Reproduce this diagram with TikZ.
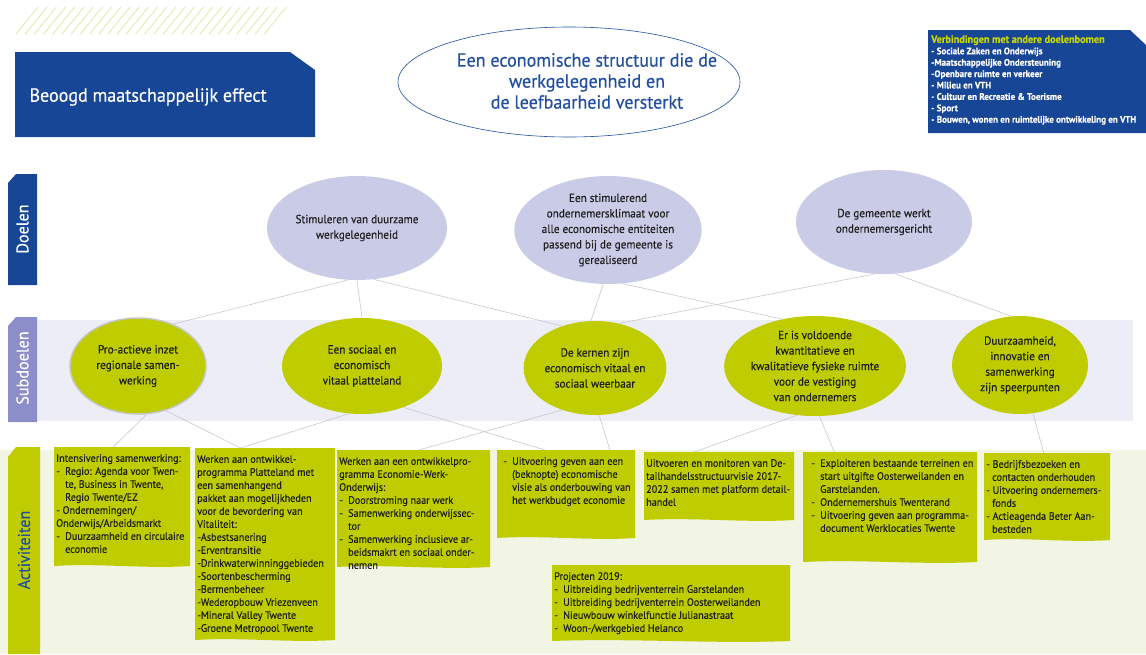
\documentclass[tikz,border=0pt]{standalone}
\usepackage{fontspec}
\setmainfont{PT Sans}[FakeStretch=0.95, FakeBold=0.3]
\usetikzlibrary{shapes.geometric}

\definecolor{darkblue}{RGB}{24,70,150}
\definecolor{titleblue}{RGB}{32,78,160}
\definecolor{doelfill}{RGB}{201,203,231}
\definecolor{subbar}{RGB}{139,142,200}
\definecolor{subband}{RGB}{236,237,246}
\definecolor{actgreen}{RGB}{191,204,0}
\definecolor{actband}{RGB}{242,244,228}
\definecolor{hatchgreen}{RGB}{226,231,168}
\definecolor{linegray}{RGB}{200,200,200}
\definecolor{textdark}{RGB}{30,30,30}
\definecolor{verbtitle}{RGB}{200,214,0}

\newcommand{\itm}{\makebox[9pt][l]{-}}
\newcommand{\ind}{\hspace*{9pt}}
% activity box: name, x, y, width, height, text
\newcommand{\actbox}[6]{%
  \fill[actgreen] (#2,#3) -- ++(#4,0) -- ++(0,#5)
    .. controls +(-#4/3,3) and +(#4/3,-3) .. (#2,#3+#5) -- cycle;
  \node[acttext] (#1) at (#2+2,#3) {#6};}

\tikzset{
  doel/.style 2 args={ellipse, fill=doelfill, minimum width=#1, minimum height=#2,
    inner sep=0pt, align=center, font=\fontsize{11.8}{15.5}\selectfont, text=textdark},
  subdoel/.style 2 args={ellipse, fill=actgreen, minimum width=#1, minimum height=#2,
    inner sep=0pt, align=center, font=\fontsize{11.8}{15.5}\selectfont, text=textdark},
  link/.style={draw=linegray, line width=0.6pt},
  acttext/.style={anchor=north west, align=left, inner xsep=0pt, inner ysep=7pt,
    font=\fontsize{10.7}{13}\selectfont, text=textdark},
  barlabel/.style={rotate=90, font=\fontsize{17}{17}\selectfont},
  hatchline/.style={draw=hatchgreen, line width=0.8pt},
}

\begin{document}
\begin{tikzpicture}[x=1pt, y=-1pt]
\useasboundingbox (0,0) rectangle (1146,654);

% top hatch
\foreach \i in {0,...,27}
  \draw[hatchline] ({16+\i*9.2},34) -- ++(22,-27);

% bands
\fill[subband] (37,320) rectangle (1133,421);
\fill[actband] (0,450) rectangle (1146,654);

% side bars
\fill[darkblue] (8,183) -- (16,174) -- (37,174) -- (37,285) -- (8,285) -- cycle;
\node[barlabel, text=white] (lbldoel) at (22.5,229) {Doelen};
\fill[subbar] (8,326) -- (16,317) -- (37,317) -- (37,422) -- (8,422) -- cycle;
\node[barlabel, text=white] (lblsub) at (22.5,368) {Subdoelen};
\fill[actgreen] (8,457) -- (16,447) -- (40,447) -- (40,654) -- (8,654) -- cycle;
\node[barlabel, text=titleblue] (lblact) at (24,550) {Activiteiten};

% effect
\fill[darkblue] (15,52) -- (290,52) -- (315,70) -- (315,137) -- (15,137) -- cycle;
\node[anchor=west, text=white, font=\fontsize{19}{22}\selectfont] (effect) at (26,97) {Beoogd maatschappelijk effect};
\node[ellipse, draw=titleblue, line width=0.6pt, minimum width=342pt, minimum height=110pt] (top) at (569,82) {};
\node[align=center, text=titleblue, font=\fontsize{19}{21}\selectfont] (toptext) at (587,81)
  {Een economische structuur die de\\werkgelegenheid en\\de leefbaarheid versterkt};

% verbindingen
\fill[darkblue] (928,30) -- (1130,30) -- (1146,45) -- (1146,133) -- (928,133) -- cycle;
\node[anchor=north west, align=left, inner sep=0pt, text=white,
  font=\bfseries\fontsize{9.5}{11.4}\selectfont] (verb) at (931,35)
  {\textcolor{verbtitle}{\fontsize{10.8}{11.4}\selectfont Verbindingen met andere doelenbomen}\\
   - Sociale Zaken en Onderwijs\\
   -Maatschappelijke Ondersteuning\\
   -Openbare ruimte en verkeer\\
   - Milieu en VTH\\
   - Cultuur en Recreatie \& Toerisme\\
   - Sport\\
   - Bouwen, wonen en ruimtelijke ontwikkeling en VTH};

% doelen
\node[doel={180pt}{104pt}] (D1) at (357,228) {Stimuleren van duurzame\\werkgelegenheid};
\node[doel={176pt}{108pt}] (D2) at (608,230) {Een stimulerend\\ondernemersklimaat voor\\alle economische entiteiten\\passend bij de gemeente is\\gerealiseerd};
\node[doel={176pt}{104pt}] (D3) at (884,222) {De gemeente werkt\\ondernemersgericht};

% subdoelen
\node[subdoel={136pt}{96pt}, draw=gray!45, line width=1.5pt] (S1) at (138,366) {Pro-actieve inzet\\regionale samen-\\werking};
\node[subdoel={160pt}{96pt}] (S2) at (362,366) {Een sociaal en\\economisch\\vitaal platteland};
\node[subdoel={140pt}{94pt}] (S3) at (595,368) {De kernen zijn\\economisch vitaal en\\sociaal weerbaar};
\node[subdoel={164pt}{100pt}] (S4) at (815,366) {Er is voldoende\\kwantitatieve en\\kwalitatieve fysieke ruimte\\voor de vestiging\\van ondernemers};
\node[subdoel={136pt}{98pt}] (S5) at (1020,365) {Duurzaamheid,\\innovatie en\\samenwerking\\zijn speerpunten};

% activiteiten
\actbox{A1}{54}{447}{136}{119}{Intensivering samenwerking:\\
  \itm Regio: Agenda voor Twen-\\\ind te, Business in Twente,\\\ind Regio Twente/EZ\\
  - Ondernemingen/\\Onderwijs/Arbeidsmarkt\\
  \itm Duurzaamheid en circulaire\\\ind economie}
\actbox{A2}{195}{448}{140}{192}{Werken aan ontwikkel-\\programma Platteland met\\een samenhangend\\pakket aan mogelijkheden\\voor de bevordering van\\Vitaliteit:\\
  -Asbestsanering\\-Erventransitie\\-Drinkwaterwinninggebieden\\-Soortenbescherming\\
  -Bermenbeheer\\-Wederopbouw Vriezenveen\\-Mineral Valley Twente\\-Groene Metropool Twente}
\actbox{A3}{337}{450}{153}{117}{Werken aan een ontwikkelpro-\\gramma Economie-Werk-\\Onderwijs:\\
  \itm Doorstroming naar werk\\\itm Samenwerking onderwijssec-\\\ind tor\\
  \itm Samenwerking inclusieve ar-\\\ind beidsmakrt en sociaal onder-\\\ind nemen}
\actbox{A4}{497}{450}{138}{88}{\hspace*{4pt}\itm Uitvoering geven aan een\\\hspace*{4pt}\ind (beknopte) economische\\
  \hspace*{4pt}\ind visie als onderbouwing van\\\hspace*{4pt}\ind het werkbudget economie}
\actbox{A5}{644}{452}{150}{68}{Uitvoeren en monitoren van De-\\tailhandelsstructuurvisie 2017-\\2022 samen met platform detail-\\handel}
\actbox{A6}{803}{452}{174}{110}{\hspace*{6pt}\itm Exploiteren bestaande terreinen en\\\hspace*{6pt}\ind start uitgifte Oosterweilanden en\\
  \hspace*{6pt}\ind Garstelanden.\\\hspace*{6pt}\itm Ondernemershuis Twenterand\\
  \hspace*{6pt}\itm Uitvoering geven aan programma-\\\hspace*{6pt}\ind document Werklocaties Twente}
\actbox{A7}{984}{453}{126}{87}{- Bedrijfsbezoeken en\\\hspace*{6pt}contacten onderhouden\\- Uitvoering ondernemers-\\\hspace*{6pt}fonds\\
  - Actieagenda Beter Aan-\\\hspace*{6pt}besteden}
\actbox{A8}{552}{565}{238}{76}{Projecten 2019:\\
  \itm Uitbreiding bedrijventerrein Garstelanden\\\itm Uitbreiding bedrijventerrein Oosterweilanden\\
  \itm Nieuwbouw winkelfunctie Julianastraat\\\itm Woon-/werkgebied Helanco}

% doelen -> subdoelen
\draw[link] (D1.-100) -- (S1.50);
\draw[link] (D1.-90) -- (S2.90);
\draw[link] (D1.-72) -- (S3.128);
\draw[link] (D2.-95) -- (S3.95);
\draw[link] (D2.-75) -- (S4.125);
\draw[link] (D3.-100) -- (S3.62);
\draw[link] (D3.-78) -- (S5.100);

% subdoelen -> activiteiten
\draw[link] (S1.-80) -- ([xshift=-7pt]A1.north);
\draw[link] (S1.-58) -- ([xshift=-20pt]A2.north);
\draw[link] (S2.-105) -- ([xshift=-20pt]A2.north);
\draw[link] (S2.-45) -- ([xshift=-20pt]A4.north);
\draw[link] (S3.-128) -- ([xshift=12pt]A3.north);
\draw[link] (S3.-85) -- ([xshift=45pt]A4.north);
\draw[link] (S4.-110) -- ([xshift=-24pt]A5.north);
\draw[link] (S4.-85) -- ([xshift=-55pt]A6.north);
\draw[link] (S5.-75) -- (A7.north);
\end{tikzpicture}
\end{document}
